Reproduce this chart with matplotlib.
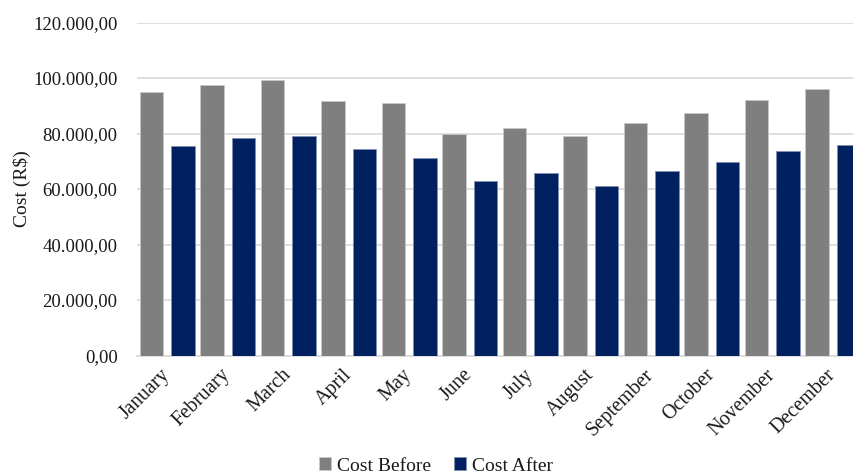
import matplotlib
matplotlib.use("Agg")
import matplotlib.pyplot as plt
import numpy as np
from matplotlib.ticker import FuncFormatter, MultipleLocator

months = ["January", "February", "March", "April", "May", "June", "July",
          "August", "September", "October", "November", "December"]
cost_before = [95000, 97400, 99400, 91700, 90900, 80000, 82100, 79100,
               83900, 87500, 92000, 95900]
cost_after = [75500, 78500, 79000, 74400, 71200, 63000, 65700, 61000,
              66500, 69700, 73600, 75900]

GRAY = "#7f7f7f"
NAVY = "#002060"
GRID = "#d9d9d9"
TEXT = "#1a1a1a"

plt.rcParams["font.family"] = ["Liberation Serif", "DejaVu Serif"]

fig = plt.figure(figsize=(8.54, 4.74), dpi=100)
ax = fig.add_axes([137 / 854, 1 - 355.5 / 474, 726 / 854, 333 / 474])

x = np.arange(len(months))
off = 0.26
w = 0.395
ax.bar(x - off, cost_before, width=w, color=GRAY, edgecolor="#c8c8c8",
       linewidth=0.6, label="Cost Before", zorder=3)
ax.bar(x + off, cost_after, width=w, color=NAVY, edgecolor="#8090b0",
       linewidth=0.6, label="Cost After", zorder=3)

ax.set_xlim(-0.5, len(months) - 0.5)
ax.set_ylim(0, 120000)
ax.yaxis.set_major_locator(MultipleLocator(20000))


def br_fmt(v, pos):
    s = f"{v:,.2f}"
    return s.replace(",", "X").replace(".", ",").replace("X", ".")


ax.yaxis.set_major_formatter(FuncFormatter(br_fmt))
ax.grid(axis="y", color=GRID, linewidth=1.2, zorder=0)
ax.set_axisbelow(True)
for s in ["top", "right", "left"]:
    ax.spines[s].set_visible(False)
ax.spines["bottom"].set_color(GRID)
ax.spines["bottom"].set_linewidth(1.2)
ax.tick_params(axis="both", length=0, labelsize=13.5, colors=TEXT)
ax.tick_params(axis="y", pad=14)

ax.set_xticks(x)
ax.set_xticklabels(months, rotation=45, ha="right", va="center",
                   rotation_mode="anchor", fontsize=14.5)
ax.tick_params(axis="x", pad=12)

ax.set_ylabel("Cost (R$)", fontsize=14, color=TEXT)
ax.yaxis.set_label_coords(-0.146, 0.5)

fig.legend(loc="center", bbox_to_anchor=(436 / 854, 1 - 466 / 474),
           ncol=2, frameon=False, fontsize=14, handlelength=0.6,
           handleheight=0.6, handletextpad=0.3, columnspacing=1.2,
           labelcolor=TEXT)

fig.savefig("out.png", dpi=100)
